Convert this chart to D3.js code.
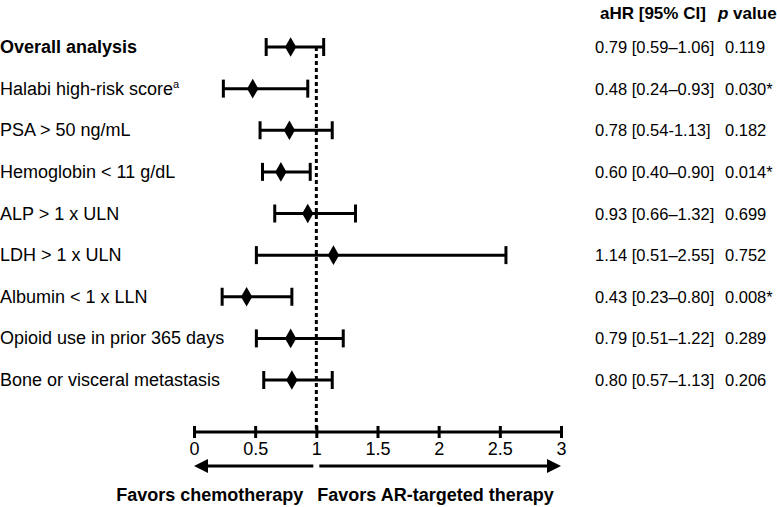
<!DOCTYPE html>
<html><head><meta charset="utf-8">
<script src="https://cdn.jsdelivr.net/npm/d3@7"></script>
<style>body{margin:0;background:#fff}svg{display:block;font-family:Arial,"Liberation Sans",sans-serif}</style>
</head><body>
<svg id="c" width="777" height="507"></svg>
<script>
const categories = ["Overall analysis","Halabi high-risk score","PSA > 50 ng/mL","Hemoglobin < 11 g/dL","ALP > 1 x ULN","LDH > 1 x ULN","Albumin < 1 x LLN","Opioid use in prior 365 days","Bone or visceral metastasis"];
// point estimates and CI bounds as drawn in the picture
const hr    = [0.79,0.48,0.78,0.71,0.93,1.14,0.43,0.79,0.80];
const lower = [0.59,0.24,0.54,0.56,0.66,0.51,0.23,0.51,0.57];
const upper = [1.06,0.93,1.13,0.95,1.32,2.55,0.80,1.22,1.13];
const ciText = ["0.79 [0.59–1.06]","0.48 [0.24–0.93]","0.78 [0.54-1.13]","0.60 [0.40–0.90]","0.93 [0.66–1.32]","1.14 [0.51–2.55]","0.43 [0.23–0.80]","0.79 [0.51–1.22]","0.80 [0.57–1.13]"];
const pText = ["0.119","0.030*","0.182","0.014*","0.699","0.752","0.008*","0.289","0.206"];
const tickValues = [0,0.5,1,1.5,2,2.5,3];
const tickLabels = ["0","0.5","1","1.5","2","2.5","3"];

const svg = d3.select("#c");
const x = d3.scaleLinear().domain([0,3]).range([194,561]);
const y = d3.scalePoint().domain(d3.range(categories.length)).range([47,380]);
const axisY = 432;

// reference line
svg.append("line").attr("x1",x(1)).attr("x2",x(1)).attr("y1",y(0)).attr("y2",axisY)
  .attr("stroke","#000").attr("stroke-width",3).attr("stroke-dasharray","4,3");

// labels
const lab = svg.append("g");
categories.forEach((c,i)=>{
  const t = lab.append("text").attr("x",0).attr("y",y(i)+6).attr("font-size",18)
    .attr("font-weight", i===0?"bold":"normal").text(c);
  if(i===1){ t.append("tspan").attr("font-size",11).attr("dy",-7).text("a"); }
});

// rows
const g = svg.append("g");
categories.forEach((c,i)=>{
  const yy=y(i);
  g.append("line").attr("x1",x(lower[i])).attr("x2",x(upper[i])).attr("y1",yy).attr("y2",yy).attr("stroke","#000").attr("stroke-width",3);
  [lower[i],upper[i]].forEach(v=>g.append("line").attr("x1",x(v)).attr("x2",x(v)).attr("y1",yy-9).attr("y2",yy+9).attr("stroke","#000").attr("stroke-width",3));
  g.append("path").attr("d",d3.symbol(d3.symbolDiamond,110)()).attr("transform",`translate(${x(hr[i])},${yy})`).attr("fill","#000");
  svg.append("text").attr("x",595).attr("y",yy+6).attr("font-size",16.5).text(ciText[i]);
  svg.append("text").attr("x",725).attr("y",yy+6).attr("font-size",16.5).text(pText[i]);
});

// headers
svg.append("text").attr("x",600).attr("y",19).attr("font-size",17).attr("font-weight","bold").text("aHR [95% CI]");
const ph = svg.append("text").attr("x",718).attr("y",19).attr("font-size",17).attr("font-weight","bold");
ph.append("tspan").attr("font-style","italic").text("p");
ph.append("tspan").text(" value");

// axis
const ax = svg.append("g").attr("transform",`translate(0,${axisY})`)
  .call(d3.axisBottom(x).tickValues(tickValues).tickFormat((d,i)=>tickLabels[i]).tickSizeOuter(0).tickSizeInner(6));
ax.select(".domain").attr("stroke-width",3).attr("d",`M${x(0)},0H${x(3)}`);
ax.selectAll(".tick line").attr("stroke-width",3).attr("y1",-6).attr("y2",6);
ax.selectAll(".tick text").attr("font-size",18).attr("font-family","Arial,'Liberation Sans',sans-serif").attr("y",10).attr("dy","0.71em");

// arrows
const ay = 466;
function arrow(x1,x2,dir){
  const tipX = dir<0?x1:x2;
  svg.append("line").attr("x1",dir<0?x1+10:x1).attr("x2",dir<0?x2:x2-10).attr("y1",ay).attr("y2",ay).attr("stroke","#000").attr("stroke-width",3);
  svg.append("path").attr("d",`M${tipX},${ay}L${tipX-dir*14},${ay-7}L${tipX-dir*14},${ay+7}Z`).attr("fill","#000");
}
arrow(x(0),x(1)-3,-1);
arrow(x(1)+3,x(3),1);

svg.append("text").attr("x",x(1)-13).attr("y",501).attr("text-anchor","end").attr("font-size",18).attr("font-weight","bold").text("Favors chemotherapy");
svg.append("text").attr("x",x(1)+1).attr("y",501).attr("font-size",18).attr("font-weight","bold").text("Favors AR-targeted therapy");
</script>
</body></html>
